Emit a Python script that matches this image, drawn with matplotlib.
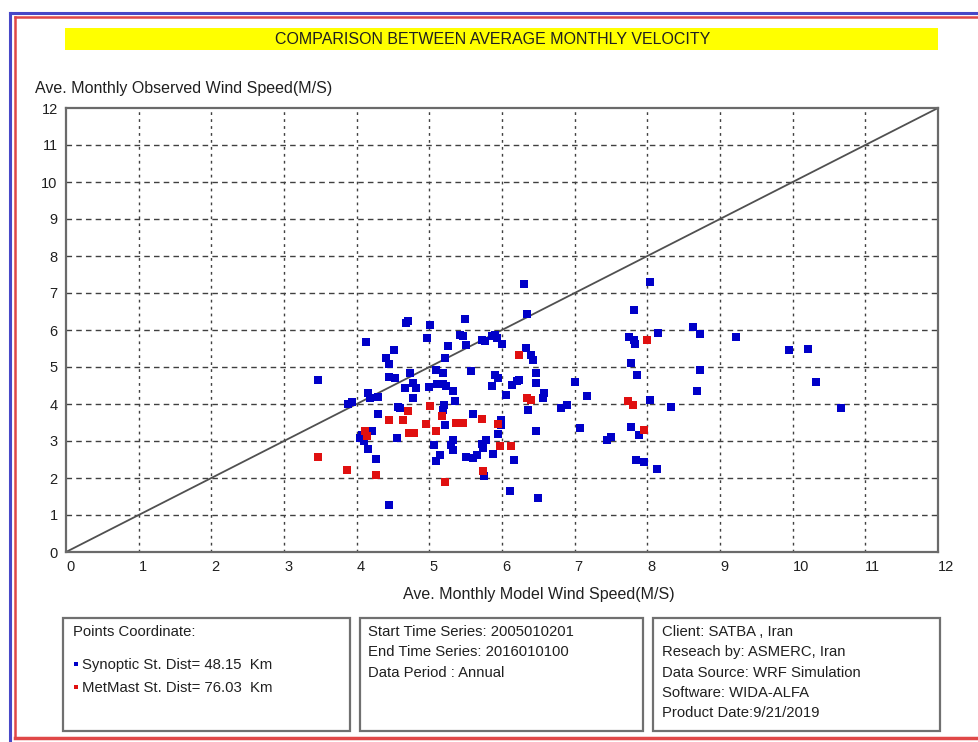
import matplotlib
matplotlib.use("Agg")
import matplotlib.pyplot as plt
from matplotlib.patches import Rectangle
from matplotlib.lines import Line2D

# ---------------- data ----------------
synoptic_x = [6.30, 6.35, 4.68, 4.71, 5.01, 5.49, 4.13, 4.52, 4.97, 5.26, 5.42, 5.47, 5.50,
              5.72, 5.77, 5.86, 5.91, 5.93, 6.00, 4.41, 4.44, 5.21, 5.09, 5.19, 5.58, 4.74,
              4.44, 4.53, 3.47, 4.67, 4.77, 4.82, 5.11, 5.19, 5.23, 5.32, 5.36, 4.77, 5.91,
              5.95, 5.86, 6.05, 4.16, 4.19, 4.29, 3.88, 3.94, 4.57, 4.60, 4.29, 5.20, 5.19,
              5.22, 5.60, 5.98, 5.98, 5.95, 5.78, 5.72, 5.74, 5.88, 6.16, 5.51, 5.60, 5.65,
              5.33, 5.30, 5.32, 5.07, 5.14, 5.09, 4.56, 4.05, 4.07, 4.10, 4.21, 4.16, 4.27,
              5.75, 6.11, 6.49, 4.44, 6.47, 6.33, 6.40, 6.42, 6.47, 6.47, 6.58, 6.56, 6.14,
              6.21, 6.23, 6.36, 5.00,
              8.03, 7.82, 7.75, 7.82, 7.83, 8.14, 7.78, 7.86, 7.01, 7.17, 6.81, 6.89, 7.07,
              8.04, 8.32, 7.78, 7.88, 7.45, 7.50, 7.85, 7.96, 8.13,
              8.63, 8.73, 9.22, 9.95, 10.21, 10.32, 10.66, 8.73, 8.68]
synoptic_y = [7.24, 6.43, 6.19, 6.25, 6.14, 6.31, 5.68, 5.47, 5.78, 5.58, 5.87, 5.83, 5.60,
              5.74, 5.69, 5.83, 5.87, 5.78, 5.62, 5.23, 5.08, 5.24, 4.93, 4.84, 4.90, 4.84,
              4.72, 4.70, 4.66, 4.43, 4.57, 4.43, 4.54, 4.54, 4.48, 4.36, 4.09, 4.16, 4.79,
              4.70, 4.48, 4.23, 4.30, 4.16, 4.18, 4.00, 4.05, 3.91, 3.89, 3.73, 3.96, 3.85,
              3.42, 3.73, 3.58, 3.44, 3.19, 3.04, 2.93, 2.81, 2.65, 2.50, 2.56, 2.54, 2.63,
              3.04, 2.88, 2.77, 2.90, 2.63, 2.45, 3.08, 3.08, 3.17, 2.99, 3.26, 2.79, 2.52,
              2.05, 1.66, 1.46, 1.28, 3.28, 5.51, 5.33, 5.20, 4.84, 4.57, 4.30, 4.16, 4.52,
              4.61, 4.66, 3.85, 4.47,
              7.29, 6.55, 5.81, 5.72, 5.63, 5.92, 5.11, 4.79, 4.60, 4.21, 3.90, 3.97, 3.36,
              4.12, 3.92, 3.37, 3.16, 3.03, 3.12, 2.49, 2.43, 2.25,
              6.08, 5.88, 5.81, 5.47, 5.48, 4.60, 3.88, 4.91, 4.35]

metmast_x = [6.23, 6.35, 6.40, 4.71, 5.01, 4.45, 4.64, 4.96, 5.09, 5.17, 5.37, 5.42, 5.47,
             5.72, 5.95, 4.72, 4.79, 4.12, 4.14, 5.97, 6.13, 3.47, 3.87, 4.27, 5.74, 5.22,
             8.00, 7.73, 7.80, 7.96]
metmast_y = [5.33, 4.16, 4.12, 3.82, 3.94, 3.58, 3.58, 3.46, 3.28, 3.67, 3.49, 3.49, 3.49,
             3.60, 3.47, 3.22, 3.22, 3.26, 3.13, 2.86, 2.86, 2.56, 2.22, 2.08, 2.18, 1.89,
             5.72, 4.09, 3.97, 3.30]

ticks = list(range(0, 13))
title_text = "COMPARISON BETWEEN AVERAGE MONTHLY VELOCITY"
ylabel_text = "Ave. Monthly Observed Wind Speed(M/S)"
xlabel_text = "Ave. Monthly Model Wind Speed(M/S)"
box1_lines = ["Points Coordinate:", "Synoptic St. Dist= 48.15  Km", "MetMast St. Dist= 76.03  Km"]
box2_lines = ["Start Time Series: 2005010201", "End Time Series: 2016010100", "Data Period : Annual"]
box3_lines = ["Client: SATBA , Iran", "Reseach by: ASMERC, Iran", "Data Source: WRF Simulation",
              "Software: WIDA-ALFA", "Product Date:9/21/2019"]

# ---------------- figure ----------------
W, H = 979, 742
fig = plt.figure(figsize=(W / 100, H / 100), dpi=100)
fig.patch.set_facecolor("white")
plt.rcParams['font.family'] = ['Liberation Sans', 'DejaVu Sans']

def fx(px):
    return px / W

def fy(py):
    return 1 - py / H

renderer = fig.canvas.get_renderer()

def fit_size(text, target_w, base=10):
    t = fig.text(0, 0, text, fontsize=base)
    w = t.get_window_extent(renderer).width
    t.remove()
    return base * target_w / w

# frame lines
fig.add_artist(Line2D([fx(10), 1], [fy(13), fy(13)], color="#4848C8", lw=2.2))
fig.add_artist(Line2D([fx(10), fx(10)], [fy(13), 0], color="#4848C8", lw=2.2))
fig.add_artist(Line2D([fx(15), 1], [fy(17), fy(17)], color="#E04848", lw=1.8))
fig.add_artist(Line2D([fx(15), fx(15)], [fy(17), fy(738)], color="#E04848", lw=1.8))
fig.add_artist(Line2D([fx(15), 1], [fy(738), fy(738)], color="#E04848", lw=2.5))

# title bar
fig.add_artist(Rectangle((fx(65), fy(50)), fx(938) - fx(65), fy(28) - fy(50),
                         facecolor="#FFFF00", edgecolor="none"))
ts = fit_size(title_text, 712 - 275)
fig.text(fx(493), fy(39.5), title_text, fontsize=ts, ha="center", va="center", color="#202020")

# axes
ax = fig.add_axes([fx(66), fy(552), fx(938) - fx(66), fy(108) - fy(552)])
ax.set_xlim(0, 12)
ax.set_ylim(0, 12)
ax.set_xticks(ticks)
ax.set_yticks(ticks)
ax.set_xticklabels([str(t) for t in ticks])
ax.set_yticklabels([str(t) for t in ticks])
ax.tick_params(length=0, labelsize=10.5, colors="#202020", pad=6)
for lab in ax.get_xticklabels():
    lab.set_ha("left")
for s in ax.spines.values():
    s.set_color("#6a6a6a")
    s.set_linewidth(1.6)

for v in range(1, 12):
    ax.axhline(v, color="#404040", lw=1.0, ls=(0, (4, 3)), zorder=1)
    ax.axvline(v, color="#404040", lw=1.0, ls=(0, (2, 3)), zorder=1)

ax.plot([0, 12], [0, 12], color="#505050", lw=1.3, zorder=2)
ax.scatter(synoptic_x, synoptic_y, marker="s", s=26, color="#0000C8", linewidths=0, zorder=3)
ax.scatter(metmast_x, metmast_y, marker="s", s=26, color="#E01010", linewidths=0, zorder=4)

ys = fit_size(ylabel_text, 333 - 35)
fig.text(fx(35), fy(88), ylabel_text, fontsize=ys, ha="left", va="center", color="#202020")
xs = fit_size(xlabel_text, 675 - 403)
fig.text(fx(539), fy(594), xlabel_text, fontsize=xs, ha="center", va="center", color="#202020")

# info boxes
for (l, r) in [(63, 350), (360, 643), (653, 940)]:
    fig.add_artist(Rectangle((fx(l), fy(731)), fx(r) - fx(l), fy(618) - fy(731),
                             facecolor="white", edgecolor="#707070", lw=1.6))

bs = fit_size(box2_lines[0], 574 - 368)

fig.text(fx(73), fy(632), box1_lines[0], fontsize=bs, ha="left", va="center", color="#202020")
fig.add_artist(Rectangle((fx(74), fy(666)), 4 / W, 4 / H, facecolor="#0000C8", edgecolor="none"))
fig.add_artist(Rectangle((fx(74), fy(689)), 4 / W, 4 / H, facecolor="#E01010", edgecolor="none"))
fig.text(fx(82), fy(665), box1_lines[1], fontsize=bs, ha="left", va="center", color="#202020")
fig.text(fx(82), fy(688), box1_lines[2], fontsize=bs, ha="left", va="center", color="#202020")

for i, line in enumerate(box2_lines):
    fig.text(fx(368), fy(632 + 20.5 * i), line, fontsize=bs, ha="left", va="center", color="#202020")
for i, line in enumerate(box3_lines):
    fig.text(fx(662), fy(632 + 20.3 * i), line, fontsize=bs, ha="left", va="center", color="#202020")

fig.savefig("out.png", dpi=100, facecolor="white")
